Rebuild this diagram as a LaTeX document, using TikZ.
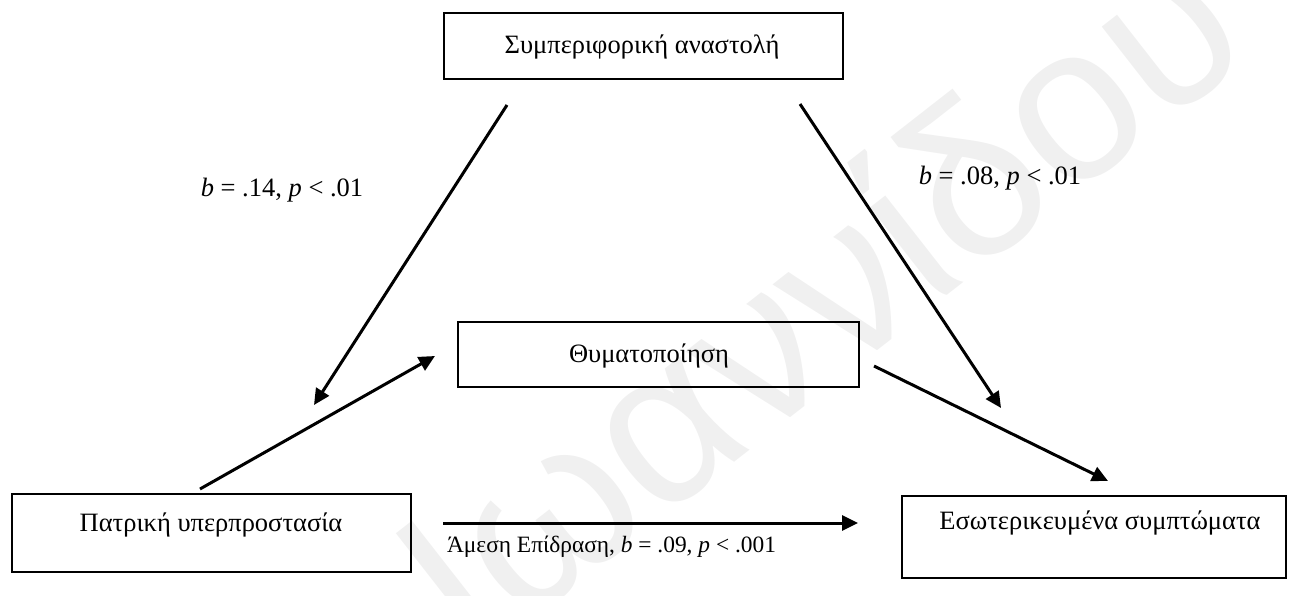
\documentclass[tikz,border=0pt]{standalone}
\usepackage{fontspec}
\setmainfont{Liberation Serif}
\newfontfamily\wmfont{Liberation Sans}
\usetikzlibrary{arrows.meta}
\tikzset{
  box/.style={draw=black, line width=1.8pt, minimum width=#1, inner sep=0pt},
  txt/.style={font=\fontsize{26.5}{31}\selectfont, inner sep=0pt},
  smalltxt/.style={font=\fontsize{23.4}{28}\selectfont, inner sep=0pt},
  arr/.style={line width=3pt, -{Triangle[length=16pt,width=15pt]}},
  wm/.style={text=black!6, font=\wmfont\fontsize{220}{220}\selectfont, inner sep=0pt}
}
\begin{document}
\begin{tikzpicture}[x=1pt,y=-1pt]
\useasboundingbox (0,0) rectangle (1289,596);
\node[wm, rotate=38] (wmark) at (815,295) {Ιωαννίδου};
% boxes
\node[box=399pt, minimum height=66pt] (inh) at (643.5,46) {};
\node[box=401pt, minimum height=65pt] (vic) at (658.5,354.5) {};
\node[box=399pt, minimum height=78pt] (par) at (211.5,533) {};
\node[box=384pt, minimum height=82pt] (int) at (1094,537) {};
% box texts
\node[txt] (inhT) at (642,47) {Συμπεριφορική αναστολή};
\node[txt] (vicT) at (649,356) {Θυματοποίηση};
\node[txt] (parT) at (211,525) {Πατρική υπερπροστασία};
\node[txt] (intT) at (1100,523) {Εσωτερικευμένα συμπτώματα};
% connector end points
\coordinate (a1s) at (507,105);
\coordinate (a1e) at (314,405);
\coordinate (a2s) at (800,104);
\coordinate (a2e) at (1001,408);
\coordinate (a3s) at (200,489);
\coordinate (a3e) at (435,356);
\coordinate (a4s) at (874,366);
\coordinate (a4e) at (1108,481);
\coordinate (a5s) at (443,523);
\coordinate (a5e) at (858,523);
\draw[arr] (a1s) -- (a1e);
\draw[arr] (a2s) -- (a2e);
\draw[arr] (a3s) -- (a3e);
\draw[arr] (a4s) -- (a4e);
\draw[arr] (a5s) -- (a5e);
% labels
\node[txt] (l1) at (282,190) {\textit{b} = .14, \textit{p} < .01};
\node[txt] (l2) at (1000,178) {\textit{b} = .08, \textit{p} < .01};
\node[smalltxt] (l3) at (611.5,547) {Άμεση Επίδραση, \textit{b} = .09, \textit{p} < .001};
\end{tikzpicture}
\end{document}
